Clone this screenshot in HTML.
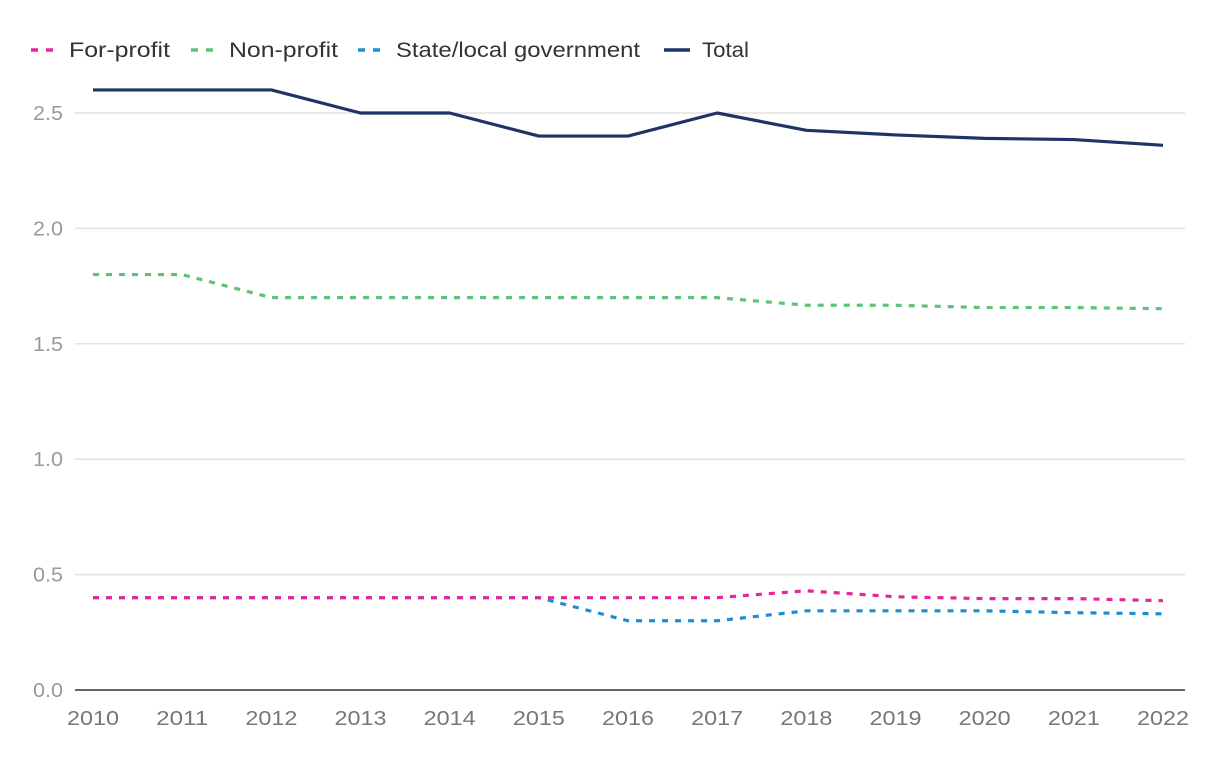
<!DOCTYPE html>
<html><head><meta charset="utf-8"><style>
body{margin:0;background:#fff;font-family:"Liberation Sans",sans-serif}
svg text{font-family:"Liberation Sans",sans-serif}
</style></head><body>
<svg id="chart" width="1220" height="760" xmlns="http://www.w3.org/2000/svg">
<g id="legend"></g>
<g id="grid"></g>
<g id="series"></g>
</svg>
<script>
const years=[2010,2011,2012,2013,2014,2015,2016,2017,2018,2019,2020,2021,2022];
const yTicks=[0,0.5,1,1.5,2,2.5];
const yTickLabels=["0.0","0.5","1.0","1.5","2.0","2.5"];
const forProfit=[0.4,0.4,0.4,0.4,0.4,0.4,0.4,0.4,0.43,0.404,0.396,0.396,0.387];
const nonProfit=[1.8,1.8,1.7,1.7,1.7,1.7,1.7,1.7,1.667,1.667,1.657,1.657,1.652];
const stateLocal=[0.4,0.4,0.4,0.4,0.4,0.4,0.3,0.3,0.343,0.343,0.343,0.335,0.33];
const total=[2.6,2.6,2.6,2.5,2.5,2.4,2.4,2.5,2.425,2.405,2.39,2.385,2.36];
const seriesNames=["For-profit","Non-profit","State/local government","Total"];
const NS="http://www.w3.org/2000/svg";
const x=i=>93+(1163-93)*i/(years.length-1);
const y=v=>690-v*230.8;
function el(t,a,p){const e=document.createElementNS(NS,t);for(const k in a)e.setAttribute(k,a[k]);p.appendChild(e);return e;}
const grid=document.getElementById('grid');
yTicks.forEach((t,i)=>{
  if(t>0){const l=el('line',{x1:75,x2:1185,y1:y(t),y2:y(t),stroke:'#e2e2e2','stroke-width':1.5},grid);
  
  }
  const tx=el('text',{x:63,y:y(t)+7,'text-anchor':'end','font-size':20,fill:'#9a9a9a',textLength:30,lengthAdjust:'spacingAndGlyphs'},grid);
  tx.textContent=yTickLabels[i];
  
  
});
const ax=el('line',{x1:75,x2:1185,y1:690,y2:690,stroke:'#333','stroke-width':1.5},grid);


years.forEach((yr,i)=>{
  const tx=el('text',{x:x(i),y:725,'text-anchor':'middle','font-size':20,fill:'#777',textLength:52,lengthAdjust:'spacingAndGlyphs'},grid);
  tx.textContent=yr;
  
  
});
const data=[forProfit,nonProfit,stateLocal,total];
const colors=['#e6269b','#5cc47a','#1a8fd6','#1e3466'];
const dashes=['6 7','6 7','6 7',''];
const keys=['for-profit','non-profit','state-local-government','total'];
const order=[1,2,0,3];
const sg=document.getElementById('series');
order.forEach(k=>{
  const d=data[k].map((v,i)=>(i?'L':'M')+x(i)+' '+y(v)).join(' ');
  const p=el('path',{d:d,fill:'none',stroke:colors[k],'stroke-width':3.2,'stroke-dasharray':dashes[k],'stroke-linejoin':'round'},sg);
  
  
});
const lg=document.getElementById('legend');
const legX=[30,190,357,663];
const legW=[101,109,244,47];
seriesNames.forEach((n,k)=>{
  const g=el('g',{},lg);
  
  
  el('line',{x1:legX[k]+1,x2:legX[k]+(k<3?23:27),y1:50,y2:50,stroke:colors[k],'stroke-width':3.4,'stroke-dasharray':k<3?'7 8':''},g);
  const t=el('text',{x:legX[k]+39,y:57,'font-size':21,fill:'#333',textLength:legW[k],lengthAdjust:'spacingAndGlyphs'},g);
  t.textContent=n;
});
</script>
</body></html>
